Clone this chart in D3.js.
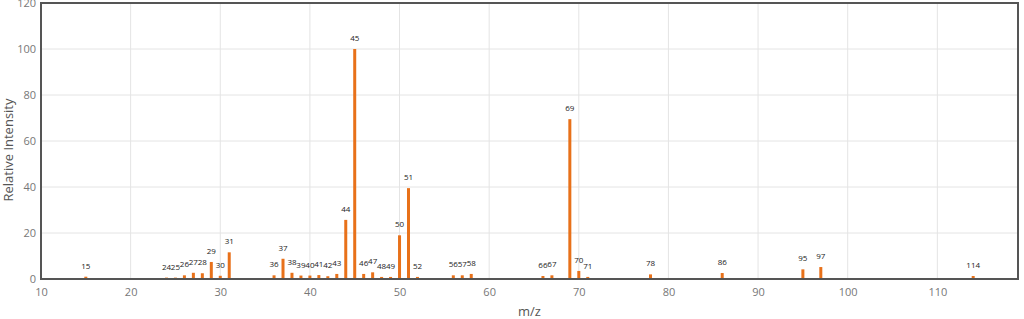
<!DOCTYPE html>
<html>
<head>
<meta charset="utf-8">
<script src="https://cdn.jsdelivr.net/npm/d3@7"></script>
<style>
  body { margin: 0; background: #fff; }
  text { font-family: "Open Sans", "DejaVu Sans", sans-serif; }
</style>
</head>
<body>
<script>
//Data
var mz = [15, 24, 25, 26, 27, 28, 29, 30, 31, 36, 37, 38, 39, 40, 41, 42, 43, 44, 45, 46, 47, 48, 49, 50, 51, 52, 56, 57, 58, 66, 67, 69, 70, 71, 78, 86, 95, 97, 114];
var intensity = [1.0, 0.6, 0.6, 1.6, 2.7, 2.5, 7.4, 1.4, 11.6, 1.6, 8.8, 2.7, 1.5, 1.5, 1.7, 1.2, 2.2, 25.7, 100, 2.2, 2.9, 0.9, 0.9, 19, 39.5, 0.9, 1.6, 1.6, 2.2, 1.3, 1.6, 69.5, 3.5, 0.9, 2.0, 2.6, 4.2, 5.2, 1.3];
var xTicks = [10, 20, 30, 40, 50, 60, 70, 80, 90, 100, 110];
var yTicks = [0, 20, 40, 60, 80, 100, 120];

//Define Margin
var margin = {left: 41, right: 6, top: 3, bottom: 40},
    width = 1024 - margin.left - margin.right,
    height = 319 - margin.top - margin.bottom;

var svg = d3.select("body")
    .append("svg")
    .attr("width", 1024)
    .attr("height", 319)
    .append("g")
    .attr("transform", "translate(" + margin.left + "," + margin.top + ")");

var x = d3.scaleLinear().domain([10, 119]).range([0, width]);
var y = d3.scaleLinear().domain([0, 120]).range([height, 0]);

//Grid lines
svg.append("g")
    .selectAll("line.vx")
    .data(xTicks)
    .enter().append("line")
    .attr("x1", function(d) { return x(d); })
    .attr("x2", function(d) { return x(d); })
    .attr("y1", 0)
    .attr("y2", height)
    .attr("stroke", "#e4e4e4");

svg.append("g")
    .selectAll("line.hy")
    .data(yTicks)
    .enter().append("line")
    .attr("x1", 0)
    .attr("x2", width)
    .attr("y1", function(d) { return y(d); })
    .attr("y2", function(d) { return y(d); })
    .attr("stroke", "#e4e4e4");

//Bars
var peaks = mz.map(function(m, i) { return {mz: m, v: intensity[i]}; });

svg.append("g")
    .selectAll("rect")
    .data(peaks)
    .enter().append("rect")
    .attr("x", function(d) { return x(d.mz) - 1.5; })
    .attr("width", 3)
    .attr("y", function(d) { return y(d.v); })
    .attr("height", function(d) { return height - y(d.v); })
    .attr("fill", "#e8711a");

//Peak labels
svg.append("g")
    .selectAll("text")
    .data(peaks)
    .enter().append("text")
    .attr("x", function(d) { return x(d.mz); })
    .attr("y", function(d) { return y(d.v) - 8; })
    .attr("text-anchor", "middle")
    .attr("font-size", 8)
    .attr("fill", "#222")
    .text(function(d) { return d.mz; });

//Axes
var xAxis = svg.append("g")
    .attr("transform", "translate(0," + height + ")")
    .call(d3.axisBottom(x).tickValues(xTicks).tickSize(0).tickPadding(9));
var yAxis = svg.append("g")
    .call(d3.axisLeft(y).tickValues(yTicks).tickSize(0).tickPadding(5));

[xAxis, yAxis].forEach(function(a) {
  a.select(".domain").remove();
  a.selectAll("text")
      .attr("font-size", 11)
      .attr("fill", "#777")
      .style("font-family", "'Open Sans', sans-serif");
});

//Frame
svg.append("rect")
    .attr("x", 0)
    .attr("y", 0)
    .attr("width", width)
    .attr("height", height)
    .attr("fill", "none")
    .attr("stroke", "#555")
    .attr("stroke-width", 2);

//Axis titles
svg.append("text")
    .attr("transform", "translate(" + (-28) + "," + (height / 2 + 9) + ") rotate(-90)")
    .attr("text-anchor", "middle")
    .attr("font-size", 13)
    .attr("fill", "#555")
    .text("Relative Intensity");

svg.append("text")
    .attr("x", width / 2)
    .attr("y", height + 37)
    .attr("text-anchor", "middle")
    .attr("font-size", 13)
    .attr("fill", "#555")
    .text("m/z");
</script>
</body>
</html>
